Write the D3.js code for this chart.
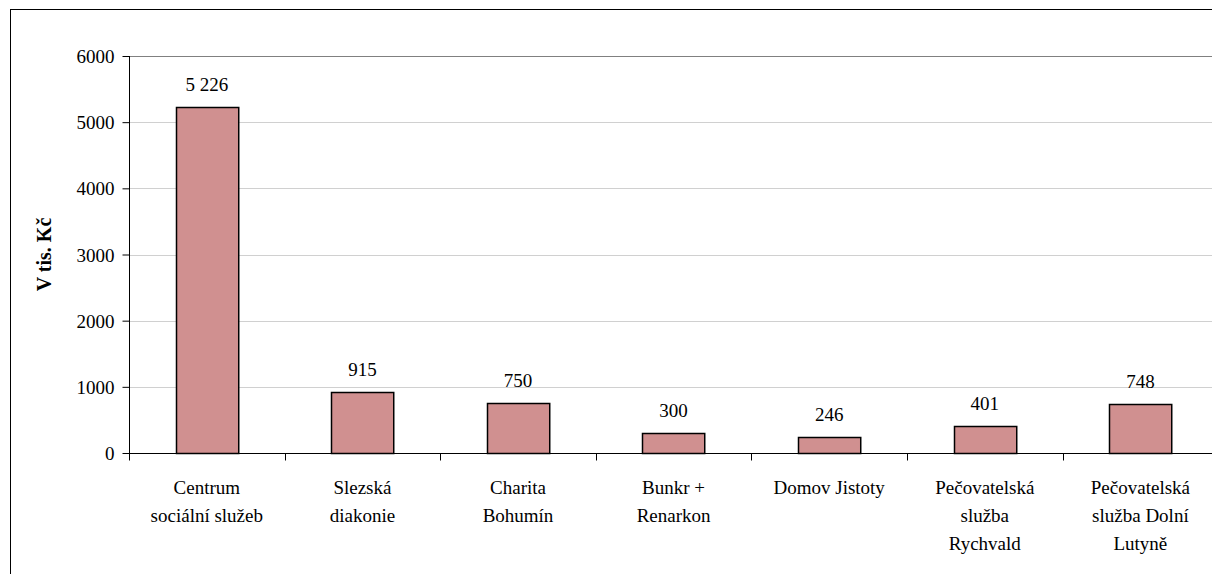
<!DOCTYPE html>
<html>
<head>
<meta charset="utf-8">
<script src="https://cdn.jsdelivr.net/npm/d3@7"></script>
<style>
  body { margin: 0; background: #fff; }
</style>
</head>
<body>
<svg id="chart" width="1212" height="574"></svg>
<script>
const categories = [
  ["Centrum", "sociální služeb"],
  ["Slezská", "diakonie"],
  ["Charita", "Bohumín"],
  ["Bunkr +", "Renarkon"],
  ["Domov Jistoty"],
  ["Pečovatelská", "služba", "Rychvald"],
  ["Pečovatelská", "služba Dolní", "Lutyně"]
]
const values = [5226, 915, 750, 300, 246, 401, 748]
const valueLabels = ["5 226", "915", "750", "300", "246", "401", "748"]
const yTicks = [0, 1000, 2000, 3000, 4000, 5000, 6000]

const FONT = "Liberation Serif, Tinos, Times New Roman, Times, DejaVu Serif, Noto Serif, FreeSerif, serif"
const FS = 19

var svg = d3.select("#chart")
var margin = {top: 56, left: 129}
var width = 155.6 * categories.length
var height = 397

// outer frame
svg.append("rect")
  .attr("x", 10.5).attr("y", 9.5)
  .attr("width", 1300).attr("height", 700)
  .attr("fill", "none").attr("stroke", "#000").attr("stroke-width", 1)

var g = svg.append("g")
  .attr("transform", "translate(" + margin.left + "," + margin.top + ")")

var x = d3.scaleBand()
  .domain(d3.range(categories.length))
  .range([0, width])
  .paddingInner(0.6)
  .paddingOuter(0.3)

var y = d3.scaleLinear()
  .domain([0, 6000])
  .range([height, 0])

// gridlines
g.append("g")
  .selectAll("line")
  .data(yTicks.slice(1))
  .join("line")
  .attr("x1", 0).attr("x2", 1200)
  .attr("y1", d => Math.round(y(d)) + 0.5)
  .attr("y2", d => Math.round(y(d)) + 0.5)
  .attr("stroke", d => d === 6000 ? "#808080" : "#d0d0d0")
  .attr("stroke-width", 1)

// y axis
var yAxis = g.append("g")
  .attr("class", "axis axis--y")
  .attr("transform", "translate(0.5,0)")
  .call(d3.axisLeft(y).tickValues(yTicks).tickSize(7).tickPadding(8).tickFormat(d3.format("d")))
yAxis.attr("font-family", FONT).attr("font-size", FS)
yAxis.select(".domain").attr("stroke", "#000").attr("d", "M0," + y(6000) + "V" + y(0))
yAxis.selectAll(".tick line").attr("stroke", "#000")
yAxis.selectAll("text").attr("fill", "#000").attr("dy", "0.35em")

g.append("text")
  .attr("transform", "translate(-78," + (height / 2) + ") rotate(-90)")
  .attr("text-anchor", "middle")
  .attr("font-family", FONT)
  .attr("font-size", 20)
  .attr("font-weight", "bold")
  .text("V tis. Kč")

// bars
g.append("g")
  .selectAll("rect")
  .data(values)
  .join("rect")
  .attr("x", (d, i) => Math.round(x(i)) + 0.5)
  .attr("y", d => Math.round(y(d)) + 0.5)
  .attr("width", x.bandwidth())
  .attr("height", d => Math.round(y(0)) - Math.round(y(d)))
  .attr("fill", "#d09090")
  .attr("stroke", "#000")
  .attr("stroke-width", 1.5)

// value labels
g.append("g")
  .selectAll("text")
  .data(values)
  .join("text")
  .attr("x", (d, i) => x(i) + x.bandwidth() / 2)
  .attr("y", d => y(d) - 16)
  .attr("text-anchor", "middle")
  .attr("font-family", FONT)
  .attr("font-size", FS)
  .text((d, i) => valueLabels[i])

// x axis
var xAxis = g.append("g")
  .attr("transform", "translate(0," + (height + 0.5) + ")")
xAxis.append("line")
  .attr("x1", 0).attr("x2", 1200)
  .attr("stroke", "#000")
xAxis.selectAll(".xtick")
  .data(d3.range(categories.length + 1))
  .join("line")
  .attr("class", "xtick")
  .attr("x1", i => Math.round(i * width / categories.length) + 0.5)
  .attr("x2", i => Math.round(i * width / categories.length) + 0.5)
  .attr("y1", 0).attr("y2", 7)
  .attr("stroke", "#000")

var labels = xAxis.selectAll(".xlabel")
  .data(categories)
  .join("text")
  .attr("class", "xlabel")
  .attr("text-anchor", "middle")
  .attr("font-family", FONT)
  .attr("font-size", FS)
labels.each(function(lines, i) {
  var t = d3.select(this)
  lines.forEach(function(line, j) {
    t.append("tspan")
      .attr("x", x(i) + x.bandwidth() / 2)
      .attr("y", 40 + j * 28)
      .text(line)
  })
})
</script>
</body>
</html>
